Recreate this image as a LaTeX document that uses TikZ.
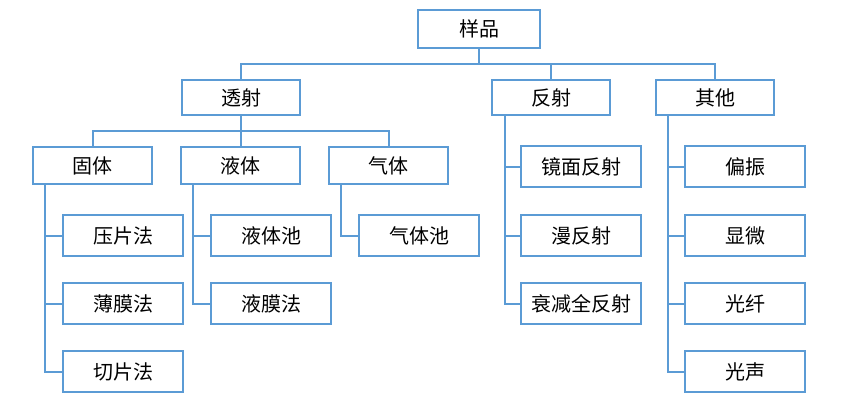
\documentclass[tikz,border=0pt]{standalone}
\usepackage{fontspec}
\setmainfont{Noto Sans CJK SC}
\definecolor{bl}{HTML}{5B9BD5}
\begin{document}
\begin{tikzpicture}[x=1pt,y=-1pt,
  bx/.style={draw=bl,line width=2pt,fill=white,inner sep=0pt,font=\fontsize{20}{22}\selectfont},
  root/.style={bx,minimum width=122pt,minimum height=38pt},
  lv/.style={bx,minimum width=118pt,minimum height=35pt},
  mid/.style={bx,minimum width=119pt,minimum height=37pt},
  leaf/.style={bx,minimum width=120pt,minimum height=41pt},
  ln/.style={draw=bl,line width=2pt}]
\useasboundingbox (0,0) rectangle (865,402);
\node[root] (r) at (479,29) {样品};
\node[lv] (t) at (241,97.5) {透射};
\node[lv] (f) at (551,97.5) {反射};
\node[lv] (q) at (715,97.5) {其他};
\node[mid] (g) at (92.5,165.5) {固体};
\node[mid] (y) at (240.5,165.5) {液体};
\node[mid] (qt) at (388.5,165.5) {气体};
\node[leaf] (g1) at (123,235.5) {压片法};
\node[leaf] (g2) at (123,303.5) {薄膜法};
\node[leaf] (g3) at (123,371.5) {切片法};
\node[leaf] (y1) at (271,235.5) {液体池};
\node[leaf] (y2) at (271,303.5) {液膜法};
\node[leaf] (q1) at (419,235.5) {气体池};
\node[leaf] (f1) at (581,166.5) {镜面反射};
\node[leaf] (f2) at (581,235.5) {漫反射};
\node[leaf] (f3) at (581,303.5) {衰减全反射};
\node[leaf] (o1) at (745,166.5) {偏振};
\node[leaf] (o2) at (745,235.5) {显微};
\node[leaf] (o3) at (745,303.5) {光纤};
\node[leaf] (o4) at (745,371.5) {光声};
\coordinate (h1) at (479,64);
\draw[ln] (r.south) -- (h1);
\draw[ln] (t.north) |- (h1) -| (q.north);
\draw[ln] (f.north) -- (f.north |- h1);
\coordinate (h2) at (241,131);
\draw[ln] (t.south) -- (h2);
\draw[ln] (g.north) |- (h2) -| (qt.north);
\draw[ln] (y.north) -- (y.north |- h2);
\coordinate (gx) at (45,0);
\draw[ln] (gx |- g.south) |- (g3.west);
\draw[ln] (gx |- g1.west) -- (g1.west);
\draw[ln] (gx |- g2.west) -- (g2.west);
\coordinate (yx) at (193,0);
\draw[ln] (yx |- y.south) |- (y2.west);
\draw[ln] (yx |- y1.west) -- (y1.west);
\coordinate (qx) at (341,0);
\draw[ln] (qx |- qt.south) |- (q1.west);
\coordinate (fx) at (505,0);
\draw[ln] (fx |- f.south) |- (f3.west);
\draw[ln] (fx |- f1.west) -- (f1.west);
\draw[ln] (fx |- f2.west) -- (f2.west);
\coordinate (ox) at (668,0);
\draw[ln] (ox |- q.south) |- (o4.west);
\draw[ln] (ox |- o1.west) -- (o1.west);
\draw[ln] (ox |- o2.west) -- (o2.west);
\draw[ln] (ox |- o3.west) -- (o3.west);
\end{tikzpicture}
\end{document}
